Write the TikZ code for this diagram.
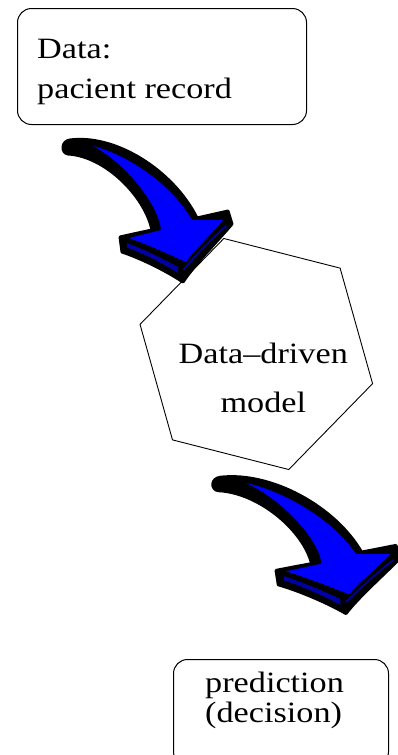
\documentclass[tikz,border=0pt]{standalone}
\usepackage{fontspec}
\setmainfont{Liberation Serif}[FakeStretch=1.16]
\usetikzlibrary{shapes.geometric}
\definecolor{arrowblue}{RGB}{0,0,255}
\definecolor{arrowside}{RGB}{0,0,165}
\tikzset{
  roundbox/.style={rectangle,draw,rounded corners=14pt,line width=1pt,anchor=north west},
  modelhex/.style={regular polygon,regular polygon sides=6,regular polygon rotate=-14.3,draw,line width=0.9pt,minimum size=240pt,inner sep=0pt},
  boxtext/.style={inner sep=0pt,align=left,anchor=north west},
  hextext/.style={inner sep=0pt,align=center,anchor=north},
  bigarrow/.pic={
    % black body, the dark side face included
    \filldraw[black,line width=3pt,line join=round] (5,-6) .. controls (50,-12) and (108,24) .. (132,72)
      -- (163,65) -- (167,78) .. controls (150,98) and (130,118) .. (118,136)
      .. controls (100,124) and (75,112) .. (57,106) -- (55,91) -- (73,87) -- (87,84)
      .. controls (80,50) and (40,10) .. (3,8) .. controls (-4,7) and (-4,-5) .. (5,-6) -- cycle;
    % top face
    \fill[arrowblue] (28,0) .. controls (60,8) and (105,36) .. (127,74) -- (158,74)
      .. controls (145,90) and (128,105) .. (121,116) .. controls (103,108) and (84,99) .. (64,92)
      -- (96,84) .. controls (94,60) and (62,18) .. (28,0) -- cycle;
    % front faces of the head
    \fill[arrowside] (62,97) .. controls (80,104) and (97,112) .. (113,121) -- (113,127)
      .. controls (97,117) and (80,108) .. (62,101.5) -- cycle;
    \draw[arrowside,line width=1.6pt] (118,124) .. controls (132,108) and (147,92) .. (161,80);
  }
}

\begin{document}
\begin{tikzpicture}[x=1pt,y=-1pt]
\useasboundingbox (0,0) rectangle (398,755);
\clip (0,0) rectangle (398,755);
\node[roundbox,minimum width=289pt,minimum height=116pt] (record) at (17,8) {};
\node[boxtext,font=\fontsize{29.5}{40}\selectfont] (recordtext) at ([shift={(20,31)}]record.north west) {Data:\\pacient record};
\node[modelhex] (model) at (256.3,354) {};
\node[hextext,font=\fontsize{29.5}{49}\selectfont] (modeltext) at ([shift={(7,-11)}]model.center) {Data--driven\\model};
\node[roundbox,minimum width=215pt,minimum height=106pt] (decision) at (173,659) {};
\node[boxtext,font=\fontsize{29.5}{30}\selectfont] (decisiontext) at ([shift={(32,13)}]decision.north west) {prediction\\(decision)};
\pic at ([shift={(48,21)}]record.south west) {bigarrow};
\pic[xscale=1.11,yscale=0.96] at ([shift={(-41.3,129)}]model.center) {bigarrow};
\end{tikzpicture}
\end{document}
